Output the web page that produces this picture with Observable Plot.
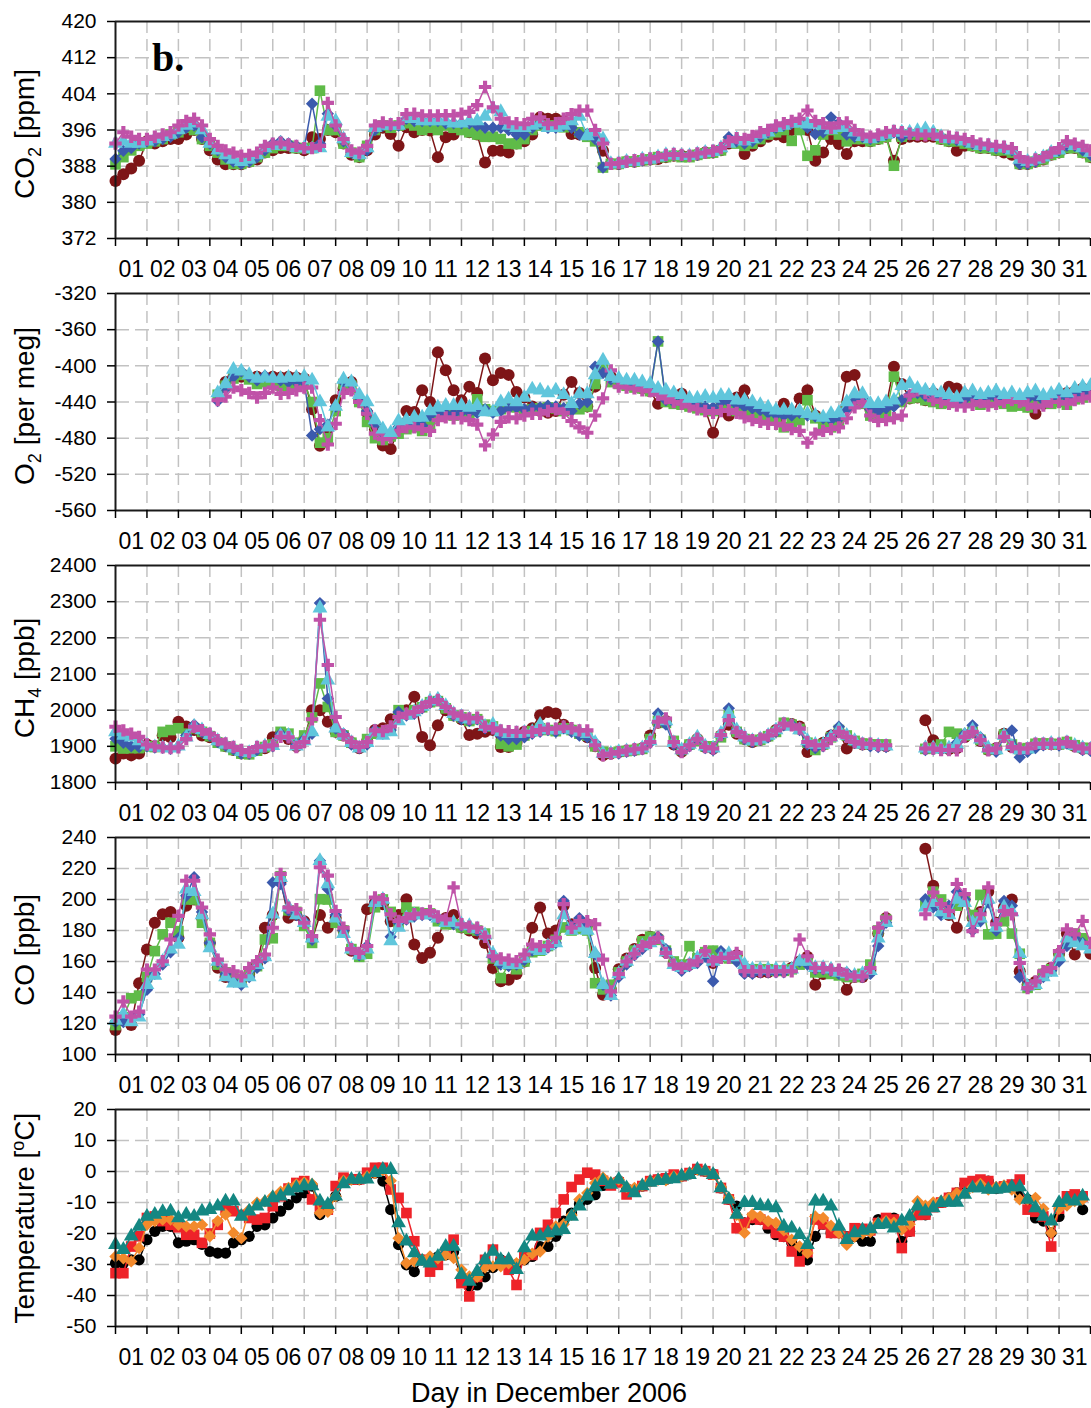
<!DOCTYPE html>
<html><head><meta charset="utf-8">
<script src="https://cdn.jsdelivr.net/npm/d3@7"></script>
<script src="https://cdn.jsdelivr.net/npm/@observablehq/plot@0.6"></script>
<style>
body{margin:0;background:#fff;}
#chart svg{display:block;}
</style></head><body><div id="chart"></div>
<script>
// ---------- tick labels ----------
const dayLabels = ["01","02","03","04","05","06","07","08","09","10","11","12","13","14","15","16","17","18","19","20","21","22","23","24","25","26","27","28","29","30","31"];
const co2Ticks = [372,380,388,396,404,412,420];
const o2Ticks = [-560,-520,-480,-440,-400,-360,-320];
const ch4Ticks = [1800,1900,2000,2100,2200,2300,2400];
const coTicks = [100,120,140,160,180,200,220,240];
const tempTicks = [-50,-40,-30,-20,-10,0,10,20];

// samples every 6 h (0.25 day) from 1 Dec 00:00
const stepDays = 0.25;
const o2StartDay = 3.25;

// ---------- CO2 [ppm] ----------
const co2Maroon = [
384.7,386.2,387.5,389.2, 393.5,393,393.5,394,
394,395,396,394, 391.5,389.5,388.4,388.4,
388.4,389,389.5,391, 391.5,392,392,392,
391.5,394.4,394,396, 395.5,393,390.5,390,
391.5,395,396.5,395.1, 392.5,396.6,395.5,396,
395.9,390,394.4,395, 396.2,395.5,395,388.8,
391.4,391.4,391,393, 393.5,395,398.8,398.5,
398.5,398,395.1,395, 395,394,391.4,388.5,
388.5,389,389,389.3, 389.5,389.6,390,390.3,
390.3,390.2,390.5,391, 391,391.5,393,393.5,
390.7,392.5,393.5,394.5, 395,394.4,396,396.5,
396,389.2,391,394, 392.9,390.7,393.5,393.5,
393.5,394,394.5,389.2, 394,394.5,394.5,394.5,
394.5,394,393.5,391.4, 392.5,392.5,392,392,
391.5,391,390.5,388.5, 388.5,389,389.5,390.5,
391,392,392,391, 390];
const co2Green = [
388.4,390,391.5,392.5, 393,393.5,394,395,
395.5,396.5,396,394, 392.5,391,389.5,388.5,
388.5,389,390,391, 392,392.5,392.5,392,
392,392,404.7,396, 396,393,391,390,
392.5,396,397,396.5, 397,397.5,397,396,
396.5,396,397,396.5, 396,395.5,395,394.5,
394.5,394,393,392.9, 394,396,397,397,
397,396.6,397.5,395.5, 394.5,393.5,387.7,388.5,
388.5,389,389,389.3, 389.5,390,390,390.3,
390,390,390.5,390.8, 391,391.5,393.5,393,
392.5,393,394,395, 395.5,396,393.6,396,
390.3,391.5,395,396, 395,393.5,394,394,
393.5,394,394.5,388.1, 394.5,395,395,395,
395,394,393.5,393.5, 393,392.5,392,392,
391.5,391.5,391,388.5, 388.5,389,389.5,390.5,
391,392,392,391, 390];
const co2Blue = [
389.6,391.4,392,393, 393.5,393.5,394,394.5,
395.5,396.5,397,394.4, 393,391.5,390,389,
388.5,389,390,391.5, 393,393.5,393,392.5,
392,401.8,393,399.6, 397,393.5,391,390.5,
391.5,396,397,397, 397,398.5,398,398,
398,398,397.5,397.5, 397.5,397.5,397,396.5,
396.5,396.5,396,395, 395,396.5,397.5,396.5,
396.5,397,396.5,395, 395,394,387.7,388.5,
388.5,389,389,389.3, 389.5,390,390.3,390.5,
390.3,390.3,390.5,391, 391.2,392,394.4,393.5,
393,393.5,394.5,395.5, 396.5,397,397.5,398,
396.5,395.1,395.5,398.8, 397.5,395,394.5,394.5,
394,394.5,395,395.5, 394.5,395,395.5,395.5,
395,394.5,394,393.8, 393.5,393,392.5,392.5,
392,392,391.5,388.5, 388.5,389,390,391,
391.5,392.5,392.5,391.5, 390.5];
const co2Cyan = [
393,393.5,393,393, 393.5,394,394.5,395,
396,397,397.5,396, 393,391.5,390.5,389.5,
389,389.5,390.5,392, 392.5,393,392.5,392,
392,391.8,392,399, 398,394,391,390.5,
392,396.5,397,397, 397,398.5,398.5,398,
398,398,398,397.5, 397.5,398,398,399,
400.7,400,397,396.5, 396.5,397,397.5,396.5,
396.5,397,398,399, 394.7,395.5,394,388.5,
388.5,389,389,389.5, 389.5,390,390.5,390.5,
390.3,390.3,390.7,391, 391.2,392,393,394,
393.5,394,395,395.5, 396.5,397,397.5,397.5,
397.3,397.3,397,396, 396.5,396.5,395.5,394.5,
394,394.5,395,395.5, 395.5,395.5,395.8,396.2,
395.5,394.5,394,394, 393.5,393,392.5,392.5,
392,392,391.5,389.5, 389,389.5,390,391,
391.5,393,392.5,392, 391];
const co2Purple = [
393,395.5,394.5,394, 394,394.5,395,395.5,
397,398,398.5,397, 394,392.5,391.5,391,
390.3,390.5,391,392.5, 393,393.2,392.8,392.5,
392,392,392.5,402, 397,394,391.5,391,
392.5,397,397.7,397.3, 397.5,399.5,399.6,399.2,
399.2,399.2,399.3,399.2, 399.6,400,401.5,405.5,
401,398.5,397.7,397.5, 397.3,398.5,398.8,397.3,
397.5,398.5,399.5,400.3, 400.3,396,393,388.5,
388.7,389,389.3,389.5, 389.7,390,390.5,390.7,
390.5,390.3,390.8,391, 391.4,392,393.5,394.2,
394,394.7,395.5,396, 397,397.5,398,398.5,
400.3,398,397.5,396.5, 397.5,397.7,396,395,
394.5,395,395.5,395.8, 395.5,395.2,395,394.8,
395,394.5,394.5,394.3, 394,393.5,393,392.8,
392.5,392.3,392,390, 389,389.5,390,391,
392,393.5,393,392.5, 391.5];

// ---------- O2 [per meg], from day 3.25 ----------
const o2Maroon = [
null,-418,-412,
-412,-413,-412,-414, -412,-413,-412,-413,
-414,-448,-488.5,-470, -438,-425,-418,-438,
-452,-470,-488,-492, -470,-450,-451,-427,
-440,-385,-405,-427, -438,-423,-430,-392,
-416,-408,-410,-429, -435,-445,-450,-452,
-450,-432,-418,-430, -445,-423,-405,-412,
-418,-420,-422,-425, -428,-442,-436,-438,
-431,-440,-445,-448, -474,-450,-455,-435,
-427,-445,-452,-458, -460,-442,-455,-436,
-427,-455,-460,-462, -458,-412,-410,-440,
-448,-450,-445,-401, -420,-436,-435,-438,
-430,-436,-423,-425, -432,-436,-440,-438,
-436,-438,-442,-440, -445,-453,-442,-438,
-436,-430,-428,-425, -425];
const o2Green = [
-432,-422,-414,
-410,-415,-420,-418, -420,-422,-424,-422,
-420,-440,-485,-480, -450,-420,-422,-440,
-462,-480,-482,-478, -475,-470,-468,-472,
-465,-455,-452,-455, -453,-452,-437,-448,
-450,-448,-445,-446, -450,-448,-447,-446,
-447,-450,-446,-448, -445,-420,-400,-418,
-420,-422,-424,-425, -428,-373,-440,-442,
-443,-445,-447,-449, -450,-445,-446,-450,
-452,-455,-456,-458, -460,-468,-462,-460,
-438,-458,-465,-468, -462,-445,-440,-442,
-455,-455,-452,-412, -440,-436,-435,-438,
-440,-442,-441,-440, -438,-440,-443,-441,
-440,-442,-445,-444, -446,-441,-440,-442,
-440,-443,-437,-435, -432];
const o2Blue = [
-439,-425,-412,
-406,-412,-416,-411, -414,-416,-418,-418,
-418,-477,-470,-465, -445,-418,-420,-435,
-450,-465,-475,-477, -468,-465,-462,-466,
-455,-452,-453,-453, -451,-451,-452,-448,
-452,-450,-447,-446, -448,-446,-446,-444,
-445,-447,-450,-442, -440,-401,-408,-415,
-416,-418,-420,-423, -426,-373,-438,-440,
-440,-442,-444,-445, -446,-440,-440,-443,
-445,-447,-449,-452, -454,-455,-455,-452,
-455,-456,-458,-460, -458,-448,-438,-436,
-448,-450,-447,-445, -438,-432,-430,-433,
-436,-438,-437,-440, -437,-435,-438,-434,
-435,-437,-432,-436, -436,-434,-438,-436,
-433,-435,-432,-430, -428];
const o2Purple = [
-438,-434,-424,
-427,-430,-435,-430, -424,-431,-430,-427,
-424,-424,-460,-487, -464,-430,-427,-440,
-453,-475,-481,-479, -472,-468,-468,-470,
-472,-460,-457,-458, -458,-460,-465,-488,
-476,-462,-457,-458, -455,-453,-453,-450,
-448,-452,-461,-468, -474,-455,-436,-405,
-423,-424,-425,-427, -428,-432,-436,-440,
-442,-445,-448,-450, -452,-450,-449,-452,
-457,-460,-462,-464, -464,-466,-470,-472,
-485,-475,-472,-470, -468,-458,-446,-440,
-455,-461,-460,-458, -455,-433,-427,-430,
-438,-440,-442,-444, -445,-443,-440,-444,
-442,-440,-438,-440, -443,-446,-444,-440,
-440,-442,-438,-436, -434];
const o2Cyan = [
-430,-420,-404,
-406,-410,-414,-413, -414,-414,-413,-413,
-412,-416,-440,-468, -445,-415,-418,-432,
-440,-460,-470,-474, -461,-460,-457,-457,
-450,-446,-444,-444, -444,-446,-444,-451,
-451,-440,-437,-440, -435,-426,-427,-430,
-427,-432,-442,-431, -431,-410,-394,-412,
-414,-416,-416,-418, -420,-425,-427,-430,
-432,-436,-436,-434, -436,-433,-433,-438,
-438,-440,-443,-446, -449,-449,-449,-450,
-453,-455,-457,-453, -452,-440,-431,-431,
-442,-442,-440,-438, -422,-420,-425,-427,
-428,-430,-432,-435, -430,-428,-432,-430,
-428,-432,-430,-433, -430,-428,-433,-431,
-427,-430,-425,-423, -422];

// ---------- CH4 [ppb] ----------
const ch4Maroon = [
1866,1880,1875,1880, 1905,1900,1930,1925,
1968,1955,1945,1930, 1925,1912,1900,1890,
1880,1880,1890,1895, 1925,1935,1920,1900,
1920,2000,2000,1968, 1940,1930,1910,1895,
1915,1945,1950,1975, 1985,2000,2037,1926,
1903,1958,2000,1985, 1975,1931,1935,1940,
1945,1898,1898,1910, 1940,1950,1986,1995,
1991,1960,1945,1935, 1925,1900,1875,1880,
1884,1888,1890,1895, 1930,1965,1970,1905,
1885,1905,1920,1898, 1893,1930,1960,1935,
1920,1912,1918,1928, 1945,1960,1962,1955,
1884,1900,1910,1930, 1940,1894,1910,1905,
1905,1903,1900,null, null,null,null,1972,
1917,1895,1892,1895, 1925,1938,1915,1890,
1895,1935,1898,1892, 1894,1906,1906,1906,
1906,1910,1900,1893, 1893];
const ch4Green = [
1900,1894,1895,1895, 1900,1898,1940,1945,
1950,1935,1950,1940, 1928,1910,1900,1890,
1880,1878,1888,1898, 1905,1940,1935,1910,
1930,1980,2074,2009, 1940,1930,1910,1900,
1920,1935,1938,1945, 2000,1990,2000,2008,
2022,2025,2005,1985, 1980,1970,1975,1960,
1955,1907,1900,1905, 1930,1942,1950,1945,
1942,1950,1945,1935, 1930,1900,1885,1882,
1885,1887,1890,1893, 1920,1970,1965,1915,
1890,1905,1915,1900, 1900,1925,1985,1940,
1920,1915,1918,1928, 1940,1965,1960,1948,
1910,1890,1905,1925, 1945,1930,1915,1908,
1905,1905,1905,null, null,null,null,1893,
1895,1905,1940,1935, 1930,1940,1918,1892,
1892,1932,1905,1892, 1895,1907,1908,1907,
1905,1912,1903,1896, 1893];
const ch4Blue = [
1921,1910,1900,1898, 1900,1897,1896,1893,
1898,1930,1960,1940, 1930,1912,1902,1892,
1880,1880,1890,1898, 1900,1935,1925,1905,
1920,1935,2296,2032, 1949,1935,1905,1895,
1905,1945,1935,1945, 1995,1985,1990,2005,
2020,2030,2010,1985, 1975,1970,1975,1950,
1950,1930,1920,1920, 1925,1935,1940,1945,
1940,1950,1940,1930, 1925,1910,1878,1880,
1880,1885,1888,1892, 1910,1991,1960,1905,
1885,1900,1920,1895, 1890,1930,2005,1945,
1920,1912,1918,1925, 1940,1958,1960,1945,
1905,1895,1900,1930, 1954,1925,1910,1905,
1900,1898,1898,null, null,null,null,1890,
1892,1890,1895,1910, 1935,1958,1925,1895,
1885,1925,1944,1870, 1885,1895,1903,1905,
1902,1908,1900,1890, 1888];
const ch4Cyan = [
1940,1930,1925,1915, 1903,1898,1896,1895,
1900,1925,1955,1945, 1932,1915,1905,1895,
1885,1882,1895,1900, 1902,1930,1930,1900,
1915,1940,2282,2083, 1950,1930,1910,1895,
1910,1940,1930,1940, 1970,1985,1995,2010,
2025,2030,2012,1990, 1982,1975,1975,1955,
1960,1940,1935,1935, 1938,1940,1960,1945,
1945,1950,1945,1940, 1935,1910,1880,1880,
1885,1887,1890,1895, 1915,1975,1970,1910,
1890,1905,1925,1900, 1895,1935,1990,1945,
1925,1915,1920,1930, 1945,1960,1955,1945,
1915,1905,1905,1925, 1945,1930,1915,1905,
1905,1902,1900,null, null,null,null,1895,
1895,1892,1895,1905, 1930,1945,1920,1895,
1890,1930,1900,1890, 1892,1905,1905,1908,
1905,1910,1902,1895, 1892];
const ch4Purple = [
1954,1944,1935,1926, 1905,1900,1897,1895,
1897,1920,1954,1945, 1935,1917,1908,1898,
1890,1884,1898,1900, 1903,1926,1925,1898,
1912,1975,2250,2125, 1981,1931,1912,1898,
1912,1944,1942,1955, 1981,1990,1995,2009,
2023,2028,2009,1991, 1985,1977,1979,1954,
1950,1944,1942,1940, 1940,1940,1945,1949,
1949,1954,1950,1944, 1944,1903,1875,1880,
1884,1888,1892,1894, 1912,1968,1977,1912,
1884,1903,1921,1898, 1894,1931,1972,1940,
1925,1917,1921,1930, 1944,1963,1958,1949,
1912,1903,1903,1920, 1940,1926,1912,1907,
1907,1903,1903,null, null,null,null,1894,
1894,1890,1890,1889, 1926,1940,1917,1889,
1894,1926,1898,1894, 1894,1907,1907,1907,
1907,1912,1900,1894, 1894];

// ---------- CO [ppb] ----------
const coMaroon = [
115.8,122,119,146, 167.7,185,190.5,192,
175.3,196,200,188.3, 172,156,150,148,
148,152,158,181.8, 190,212,188.3,190,
186,174,190,181.8, 188,180,167,164,
193.7,198,197,186, 190,200.2,171,162.3,
165.6,175.3,188,190, 182,180,178,172,
155.8,147.2,148.3,152, 160,181.8,194.8,178,
180,196,184,186, 184,155.8,138.5,142,
155,162,168,174, 176,175,166,159,
156,158,161,166, 159,163,163,164,
154,153,153,153, 154,154,156,160,
163,145,152,153, 153,141.8,150,150,
154,178,188,null, null,null,null,232.7,
208.9,196,190,181.8, 200,188,192,205,
185,195,200,153.7, 145,147,152,156,
165,178,164.5,172, 165];
const coGreen = [
119,124,136.3,138, 150,166.7,177.5,185,
179.6,200,200,185, 172,158,153,150,
148,152,157,174.2, 175,215,193,192,
183,172,200.2,200, 185,180,168,163,
165,195,200,192, 184,194.8,192,191,
191,186,184,184, 182,181,180,178,
162,149.3,158,155, 160,166,167,170,
174,182,180,181, 180,146,142,145,
153,160,167,173, 176,174,167,160,
158,169.9,162,166, 167,164,162,162,
155,155,155,155, 154,154,155,158,
160,153,153,152, 151,150,150,152,
158,180,187,null, null,null,null,197,
205,200,195,196, 200,190,203,177.5,
178,186,178,165, 143,145,152,155,
163,172,178,175, 170];
const coBlue = [
121,121,124,126, 141.8,152,158,166,
175,202.4,214.3,192, 172,160,152,147,
145,150,156,162, 211,210,193,190,
186,174,225,206.7, 190,180,168,164,
170,198,199,176, 185,187,189,190,
190,188,186,184, 183,182,180,176,
163,158,157,158, 161,167,168,169,
172,199,183,188, 184,164.5,145,138,
150,158,164,168, 172,176,168,158,
154,157,159,163, 147.2,166.7,163,160,
152,152,153,153, 153,153,155,160,
158,155,155,154, 152,153,151,150,
152,170,185,null, null,null,null,200.2,
195,190,196,205, 200,180,186,198,
180,199,196,150, 143,146,150,154,
160,170,175,172, 170];
const coCyan = [
122,126,121,124, 145,151,160,168,
171,206.7,205,190, 168.8,160,150,146,
146,150,158,163, 190.5,214,195,190,
185,175,225,210, 188,178,168,164,
168,198,200,173.2, 182,188,190,190,
190,188,185,185, 184,183,181,177,
165,160,158,158, 162,168,167,170,
172,190,180,182, 180,165,145,138,
152,160,166,170, 172,174,166,158,
156,158,162,165, 160,163,165,163,
158,155,155,155, 155,155,155,160,
160,156,156,155, 153,152,151,152,
154,175,185,null, null,null,null,195,
198,192,190,200, 198,185,188,200,
182,195,192,165, 144,145,150,153,
163,175,172,170, 168];
const coPurple = [
124.4,134.2,124.4,127.7, 154.8,154.8,160.2,174.2,
189.4,212.1,212.1,194.8, 177.5,161.2,154.8,153.7,
150.4,155.8,160.2,164.5, 181.8,216.5,194.8,193.7,
185,176.4,220.8,215.4, 192.6,181.8,168,165.6,
170,201.3,200.2,190.5, 186.1,188,190.5,191,
192.6,189,187.2,207.8, 184,182.5,181.8,176,
163.4,162,161.2,160.2, 164.5,171,169.9,170,
175.3,197,181.8,186.1, 186,184,161.2,140.7,
152,160,165,170, 172,175.3,165.6,158,
155.8,158,160.2,166.7, 160.2,162.3,162.3,165.6,
153.7,153.7,153.7,153.7, 153.7,153.7,153.7,174.2,
163.4,155.8,155.8,154.8, 154.8,151.5,150.4,150.4,
155.8,181.8,188.3,null, null,null,null,190.5,
204.5,197,192.6,210, 203.5,179.6,190.5,207.8,
184,192.6,190.5,159, 142.8,147.2,153.7,155.8,
166.7,180.7,177.5,186.1, 172];

// ---------- Temperature [°C] ----------
const tempBlack = [
-29.6,-29.6,-28.5,-28.5, -22,-19.3,-17.7,-17.7,
-23,-22.5,-22,-23.5, -25.8,-26.3,-26.3,-23,
-22,-20.9,-17.7,-17.2, -15,-12.8,-10.7,-8.5,
-6.9,-4.7,-13.9,-12, -8,-2.6,-2.6,-2.6,
-1.5,-0.5,-3.1,-12.3, -23.6,-30.1,-32.3,-28.5,
-28.5,-27.5,-26.9,-26, -35,-37.1,-36.6,-34,
-31,-28.5,-29.6,-30, -28.5,-27.4,-24.2,-24.2,
-20.9,-16,-13.4,-10.5, -9,-7.5,-4.5,-4.2,
-3,-5.5,-6,-4.7, -3.1,-2.6,-2.6,-1.5,
-1.5,-0.8,0.6,0.1, -0.8,-5.3,-9,-11.2,
-16.6,-15.5,-15.5,-18.3, -20.4,-21,-23,-26,
-28.5,-20.9,-17,-19.8, -19.8,-21,-21,-22.5,
-22.5,-15.5,-15.5,-15, -22.5,-19.3,-13.5,-14,
-11,-10,-8.5,-6.9, -4.2,-3.5,-3.1,-3.1,
-5.5,-5,-4.8,-8, -9,-15,-16,-19.8,
-14.5,-9.5,-9,-12.3];
const tempRed = [
-32.8,-32.8,-24.2,-20.9, -15,-14.5,-16,-17.2,
-18,-20.4,-20.4,-23, -20,-17.2,-12.3,-12.8,
-14,-15,-15.5,-15, -11.2,-8,-5.5,-3.7,
-3.1,-9,-12,-12.3, -4.7,-2,-2.6,-2.5,
-0.4,1.2,1.2,-5.8, -8.5,-13.4,-22.5,-28.5,
-32.3,-30.1,-26,-22, -36,-40.3,-34,-28.5,
-25.2,-29,-31.7,-36.6, -27,-26.9,-19.8,-17.2,
-13.4,-9,-5,-2.6, -0.4,-1,-3,-4.5,
-3.5,-7.4,-6,-4.7, -3.1,-2.6,-2.2,-1,
-1.5,-0.5,0.8,0.1, -1,-5.3,-9,-18.3,
-16.6,-15,-15.5,-17, -19.8,-21,-25.8,-29,
-26,-15.5,-17,-19.8, -19.8,-21,-18.3,-18.5,
-19,-16.6,-15,-15.5, -24.7,-19.3,-14,-13.9,
-11.5,-10,-8.5,-6.9, -3.7,-3.1,-2.6,-3.1,
-5.3,-4.8,-4.2,-2.6, -12.3,-13,-14.5,-24.2,
-12,-8,-7.4,-8];
const tempOrange = [
-27.4,-28,-29,-24.7, -17.2,-16,-15.5,-15.5,
-17.2,-17.7,-17.7,-17.2, -20.9,-16,-13.9,-19.8,
-21.5,-12.3,-10.1,-9.6, -8,-6.5,-5.3,-4.2,
-3.5,-4,-13.4,-13, -8,-3,-2.6,-2.5,
-1.5,-0.5,0.5,-3, -21.5,-29.6,-29,-28.5,
-27.4,-28,-26.9,-27.9, -31.7,-33.9,-34,-31,
-30.6,-30.6,-29.6,-29.6, -28.5,-26.5,-25.8,-21,
-17.7,-17,-14,-9, -6.9,-3.7,-2,-3.5,
-2.6,-5,-5.3,-4.5, -3.1,-2.6,-2.8,-1.6,
-1.5,-0.5,0.6,0.3, -1,-5,-8.5,-14,
-19.8,-13.9,-14.5,-16, -16.6,-19,-22,-24.2,
-26.3,-14.5,-15,-17.5, -19.8,-23.6,-21,-20,
-19.5,-16.6,-16,-16.5, -18.8,-17,-9.6,-11,
-10,-9.5,-8.5,-7, -7,-5,-4,-5.8,
-5,-4.5,-5.8,-9, -9,-8.5,-12,-19.8,
-12,-11,-9.5,-9];
const tempTeal = [
-23.6,-25.2,-20.9,-17.7, -14.5,-13.9,-13,-12.8,
-15,-13.9,-14.5,-12.8, -12.3,-11.2,-9.6,-9.6,
-14.5,-12.8,-11.2,-10, -8.5,-8,-6.4,-5.3,
-4.7,-4.7,-9.6,-10.7, -8,-4,-2.6,-2.6,
-2.5,-0.4,0.6,0.6, -16.6,-22.5,-26.3,-29,
-29.6,-27.4,-24.2,-24.2, -33.3,-35.5,-32.3,-28.5,
-25.8,-28.5,-28.5,-31.7, -24.7,-20.9,-20.9,-19.8,
-19.3,-18.8,-14.5,-11.2, -8,-5,-3,-4.2,
-2.6,-5.3,-6.9,-4.7, -3.5,-3,-2.6,-2.4,
-1.5,-1,0.6,0.1, -1,-5.3,-9,-13.9,
-10.1,-10.1,-11,-11.2, -11.8,-17.7,-18.3,-20.4,
-23.6,-9.6,-9.6,-11.2, -17.7,-22,-19.8,-19,
-18.5,-17.2,-17,-18.3, -16,-14.5,-11.2,-12.8,
-11.8,-10.1,-10,-10, -7.4,-5.3,-5.3,-5.8,
-5.8,-5.5,-5,-5, -9,-11.8,-14.5,-16,
-10.1,-9,-9.6,-8];

// ---------- styles ----------
const FONT = "'Liberation Sans', Arial, Helvetica, sans-serif";
const GRID = "#c2c2c2";
const AXIS = "#1a1a1a";
const C = {maroon:"#7e1517", green:"#5fbb48", blue:"#3b5aad", cyan:"#60c6dc", purple:"#c052a8",
           black:"#000000", red:"#ee2329", orange:"#f38a2c", teal:"#148782"};
const gasStyle = [
  {key:"maroon", symbol:"circle", r:6},
  {key:"green", symbol:"square", r:6},
  {key:"blue", symbol:"diamond2", r:5.6},
  {key:"cyan", symbol:"triangle", r:5.5},
  {key:"purple", symbol:"cross", r:5.2}
];
const tempStyle = [
  {key:"black", symbol:"circle", r:5.6},
  {key:"red", symbol:"square", r:6},
  {key:"orange", symbol:"diamond2", r:5.6},
  {key:"teal", symbol:"triangle", r:5.5}
];

function rows(values, start = 0) {
  return values.map((v, i) => ({t: start + i * stepDays, v}));
}

function makePanel({series, yDomain, yTicks, height, marginBottom}) {
  const inner = yTicks.filter(d => d !== yDomain[0] && d !== yDomain[1]);
  const marks = [
    Plot.ruleX(d3.range(1, 31), {stroke: GRID, strokeWidth: 1.5, strokeDasharray: "12,6"}),
    Plot.ruleY(inner, {stroke: GRID, strokeWidth: 1.5, strokeDasharray: "14,6"})
  ];
  for (const s of series) {
    const data = rows(s.values, s.start || 0);
    marks.push(Plot.line(data, {x: "t", y: "v", stroke: C[s.key], strokeWidth: 1.5}));
    marks.push(Plot.dot(data, {x: "t", y: "v", symbol: s.symbol, r: s.r, fill: C[s.key], stroke: "none"}));
  }
  marks.push(
    Plot.ruleY([yDomain[1]], {stroke: AXIS, strokeWidth: 1.8}),
    Plot.ruleY([yDomain[0]], {stroke: AXIS, strokeWidth: 1.8}),
    Plot.ruleX([0], {stroke: AXIS, strokeWidth: 2}),
    Plot.axisY({ticks: yTicks, tickSize: 8, tickPadding: 11, tickFormat: d => String(d), fontSize: 21, label: null, strokeWidth: 1.5}),
    Plot.axisX({ticks: d3.range(0, 32), tickSize: 8, tickFormat: () => "", label: null, strokeWidth: 1.5}),
    Plot.axisX({ticks: d3.range(0, 31).map(d => d + 0.5), tickSize: 0, tickPadding: 22,
                tickFormat: d => dayLabels[Math.floor(d)], fontSize: 23, label: null})
  );
  return Plot.plot({
    width: 1091, height, marginTop: 21, marginBottom, marginLeft: 115, marginRight: 1,
    x: {domain: [0, 31]},
    y: {domain: yDomain},
    style: {fontFamily: FONT, fontSize: "21px", color: "#000", background: "#fff", overflow: "visible"},
    marks
  });
}

function addTitle(svg, parts, cy, fs) {
  const t = d3.select(svg).append("text")
    .attr("transform", `translate(34,${cy}) rotate(-90)`)
    .attr("text-anchor", "middle")
    .attr("font-family", FONT).attr("font-size", fs).attr("fill", "#000");
  let shift = 0;
  for (const [txt, kind] of parts) {
    const ts = t.append("tspan").text(txt);
    let target = kind === "sub" ? 7 : kind === "sup" ? -10 : 0;
    if (target !== shift) ts.attr("dy", target - shift);
    shift = target;
    if (kind) ts.attr("font-size", Math.round(fs * 0.65));
  }
}

const gasPanels = [
  {vals: [co2Maroon, co2Green, co2Blue, co2Cyan, co2Purple], start: 0, yDomain: [372, 420], yTicks: co2Ticks,
   title: [["CO",""],["2","sub"],[" [ppm]",""]]},
  {vals: [o2Maroon, o2Green, o2Blue, o2Purple, o2Cyan], order: [0,1,2,4,3], start: o2StartDay, yDomain: [-560, -320], yTicks: o2Ticks,
   title: [["O",""],["2","sub"],[" [per meg]",""]]},
  {vals: [ch4Maroon, ch4Green, ch4Blue, ch4Cyan, ch4Purple], start: 0, yDomain: [1800, 2400], yTicks: ch4Ticks,
   title: [["CH",""],["4","sub"],[" [ppb]",""]]},
  {vals: [coMaroon, coGreen, coBlue, coCyan, coPurple], start: 0, yDomain: [100, 240], yTicks: coTicks,
   title: [["CO [ppb]",""]]}
];

const root = document.getElementById("chart");
gasPanels.forEach((p, k) => {
  const styles = p.order ? p.order.map(i => gasStyle[i]) : gasStyle;
  const series = p.vals.map((values, i) => ({...styles[i], values, start: p.start}));
  const svg = makePanel({series, yDomain: p.yDomain, yTicks: p.yTicks, height: 272, marginBottom: 34});
  addTitle(svg, p.title, 134, 28);
  if (k === 0) {
    d3.select(svg).append("text").attr("x", 152).attr("y", 71).attr("text-anchor", "start")
      .attr("font-family", "'Liberation Serif', 'Times New Roman', serif")
      .attr("font-weight", "bold").attr("font-size", 40).attr("fill", "#000").text("b.");
  }
  root.appendChild(svg);
});

const tempSeries = [tempBlack, tempRed, tempOrange, tempTeal].map((values, i) => ({...tempStyle[i], values, start: 0}));
const tsvg = makePanel({series: tempSeries, yDomain: [-50, 20], yTicks: tempTicks, height: 320, marginBottom: 82});
addTitle(tsvg, [["Temperature [",""],["o","sup"],["C]",""]], 130, 28);
d3.select(tsvg).append("text").attr("x", 549).attr("y", 314).attr("text-anchor", "middle")
  .attr("font-family", FONT).attr("font-size", 27).attr("fill", "#000").text("Day in December 2006");
root.appendChild(tsvg);
</script>
</body></html>
